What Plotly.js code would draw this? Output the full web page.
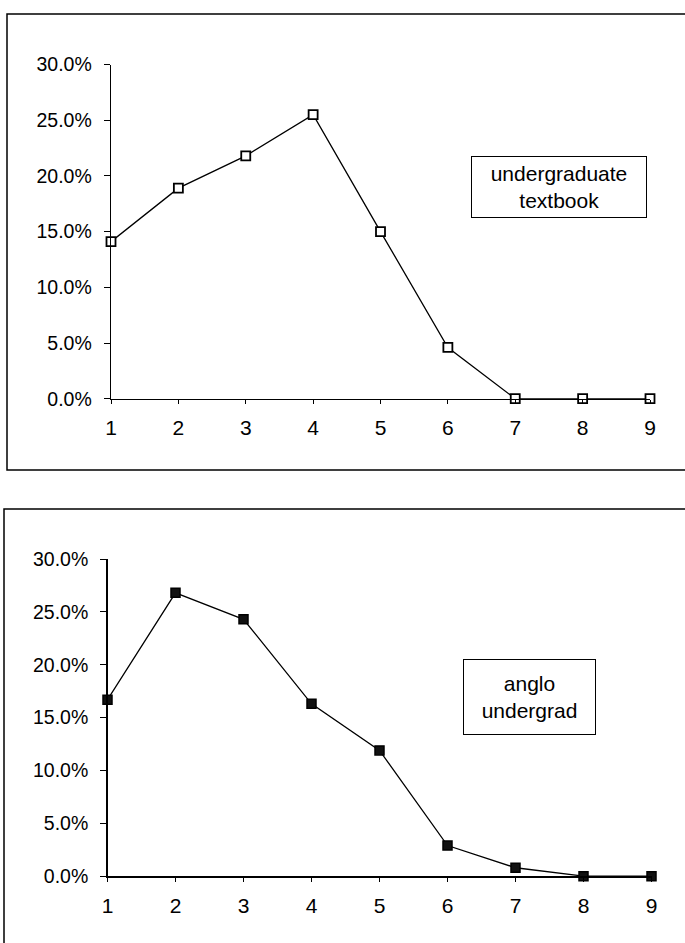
<!DOCTYPE html>
<html>
<head>
<meta charset="utf-8">
<script src="https://cdn.plot.ly/plotly-3.0.1.min.js"></script>
<style>html,body{margin:0;padding:0;background:#fff;}#chart{width:685px;height:943px;}</style>
</head>
<body>
<div id="chart"></div>
<script>
// Data
var categories = [1, 2, 3, 4, 5, 6, 7, 8, 9];
var textbookValues = [0.141, 0.189, 0.218, 0.255, 0.150, 0.046, 0.0, 0.0, 0.0];
var angloValues = [0.167, 0.268, 0.243, 0.163, 0.119, 0.029, 0.008, 0.0, 0.0];
var yTickValues = [0, 0.05, 0.10, 0.15, 0.20, 0.25, 0.30];
var yTickLabels = ["0.0%", "5.0%", "10.0%", "15.0%", "20.0%", "25.0%", "30.0%"];
var topLabel = "undergraduate<br>textbook";
var bottomLabel = "anglo<br>undergrad";

var W = 685, H = 943;
function px(x) { return x / W; }
function py(y) { return 1 - y / H; }

var family = "Liberation Sans, Arial, sans-serif";
var yFont = {family: family, size: 19.5, color: "#000"};
var xFont = {family: family, size: 21, color: "#000"};
var boxFont = {family: family, size: 21, color: "#000"};

var traces = [
  {x: categories, y: textbookValues, xaxis: "x", yaxis: "y", type: "scatter", mode: "lines+markers",
   line: {color: "#000", width: 1.3},
   marker: {symbol: "square", size: 9, color: "#fff", line: {color: "#000", width: 1.8}},
   cliponaxis: false, showlegend: false},
  {x: categories, y: angloValues, xaxis: "x2", yaxis: "y2", type: "scatter", mode: "lines+markers",
   line: {color: "#000", width: 1.3},
   marker: {symbol: "square", size: 9, color: "#111", line: {color: "#000", width: 1.5}},
   cliponaxis: false, showlegend: false}
];

function xAxis(d0, d1, anchor) {
  return {domain: [px(d0), px(d1)], range: [1, 9], anchor: anchor, tickvals: categories,
    ticktext: categories.map(String), showgrid: false, zeroline: false, showline: true,
    linecolor: "#000", linewidth: 1.5, ticks: "outside", ticklen: 4, tickcolor: "#000",
    tickfont: xFont, ticklabelstandoff: 6, fixedrange: true};
}
function yAxis(y0, y1, anchor) {
  return {domain: [py(y0), py(y1)], range: [0, 0.30], anchor: anchor, tickvals: yTickValues,
    ticktext: yTickLabels, showgrid: false, zeroline: false, showline: true,
    linecolor: "#000", linewidth: 1.3, ticks: "outside", ticklen: 6, tickcolor: "#000",
    tickfont: yFont, ticklabelstandoff: 8, fixedrange: true};
}

var layout = {
  width: W, height: H,
  margin: {l: 0, r: 0, t: 0, b: 0},
  paper_bgcolor: "#fff", plot_bgcolor: "rgba(0,0,0,0)",
  xaxis: xAxis(111, 650, "y"),
  yaxis: yAxis(398.7, 64.5, "x"),
  xaxis2: xAxis(107.5, 651.5, "y2"),
  yaxis2: yAxis(876.2, 559, "x2"),
  font: yFont,
  shapes: [
    {type: "rect", xref: "paper", yref: "paper", x0: px(7), x1: px(700), y0: py(470), y1: py(14),
     line: {color: "#000", width: 1.5}},
    {type: "rect", xref: "paper", yref: "paper", x0: px(4), x1: px(700), y0: py(960), y1: py(509),
     line: {color: "#000", width: 1.5}}
  ],
  annotations: [
    {xref: "paper", yref: "paper", x: px(559), y: py(187), text: topLabel, showarrow: false,
     font: boxFont, bordercolor: "#000", borderwidth: 1, bgcolor: "#fff",
     width: 172, height: 58, align: "center", xanchor: "center", yanchor: "middle"},
    {xref: "paper", yref: "paper", x: px(529.5), y: py(697), text: bottomLabel, showarrow: false,
     font: boxFont, bordercolor: "#000", borderwidth: 1, bgcolor: "#fff",
     width: 129, height: 72, align: "center", xanchor: "center", yanchor: "middle"}
  ]
};

Plotly.newPlot("chart", traces, layout, {staticPlot: true, displayModeBar: false});
</script>
</body>
</html>
